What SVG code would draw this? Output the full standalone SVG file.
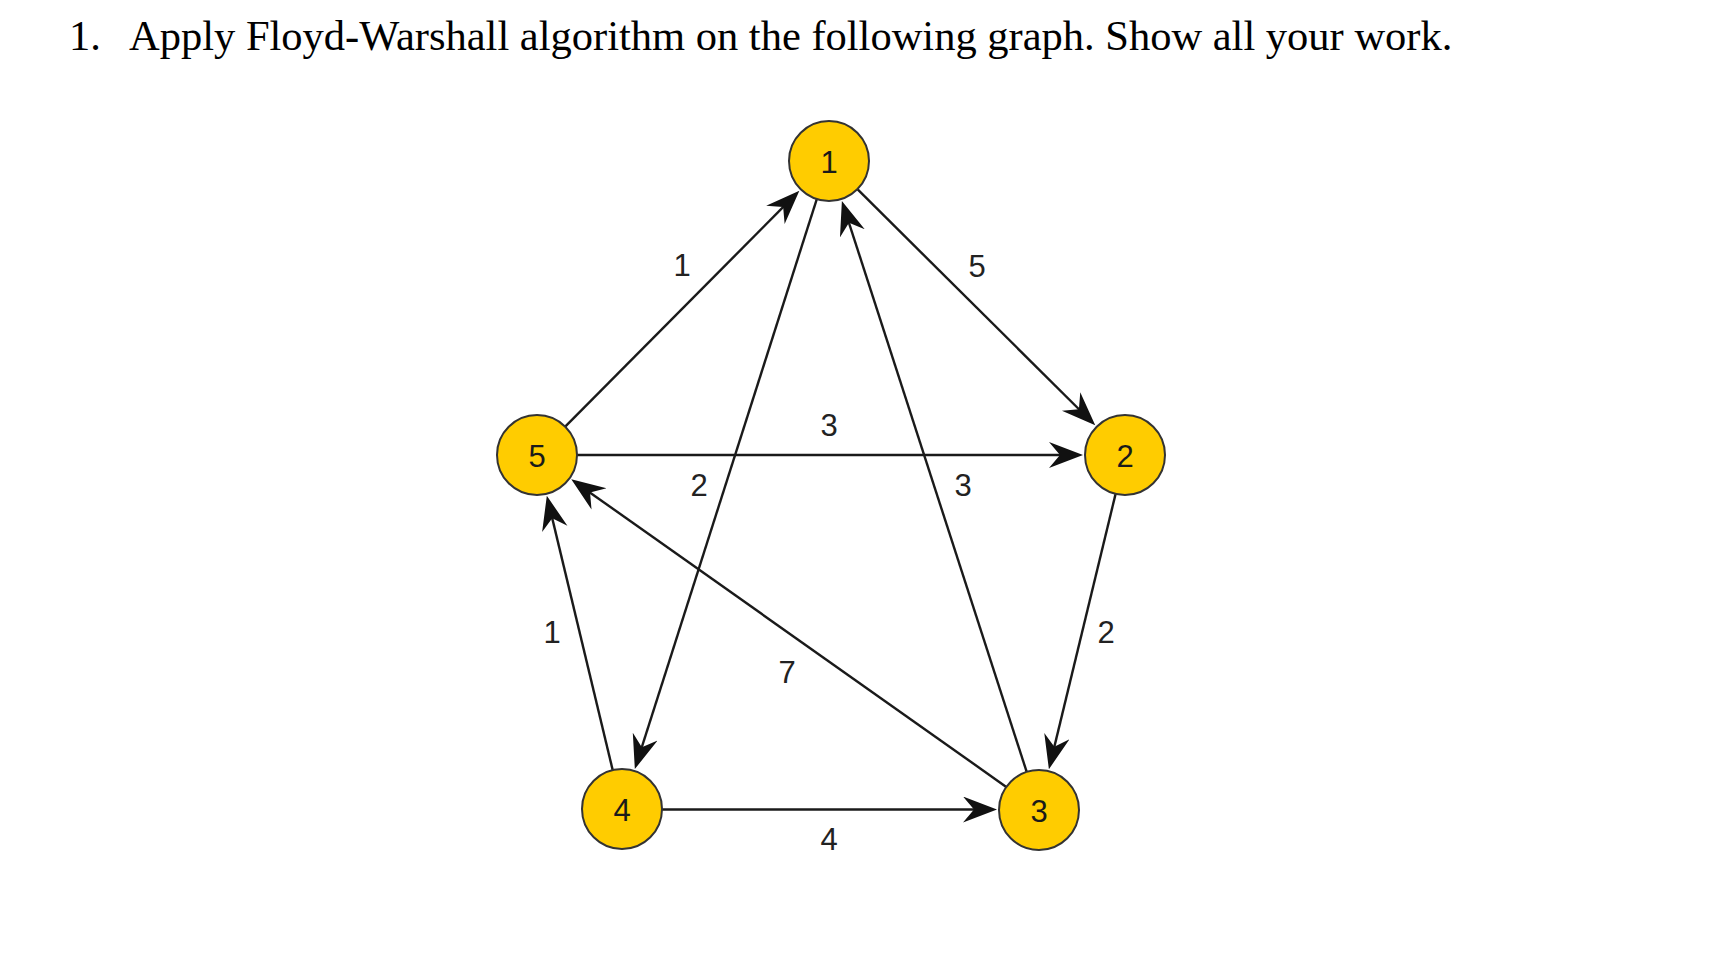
<svg xmlns="http://www.w3.org/2000/svg" width="1714" height="974" viewBox="0 0 1714 974">
<style>
.title{font-family:"Liberation Serif","Times New Roman",serif;font-size:42.5px;fill:#000}
.node circle{fill:#FFCC00;stroke:#333;stroke-width:2}
.node text{font-family:"Liberation Sans",Arial,sans-serif;font-size:31px;fill:#1a1a1a;text-anchor:middle}
.edge{stroke:#1a1a1a;stroke-width:2.4;fill:none;marker-end:url(#arr)}
.lbl{font-family:"Liberation Sans",Arial,sans-serif;font-size:31px;fill:#222;text-anchor:middle}
</style>
<defs>
<marker id="arr" markerUnits="userSpaceOnUse" markerWidth="36" markerHeight="28" refX="20" refY="13" orient="auto">
<path d="M34,13 L0,0 L11,13 L0,26 Z" fill="#111"/>
</marker>
</defs>
<rect width="1714" height="974" fill="#fff"/>
<g id="title">
<text class="title" x="69" y="50">1.</text>
<text class="title" x="129" y="50">Apply Floyd-Warshall algorithm on the following graph. Show all your work.</text>
</g>
<g id="connectors">
<line id="e5-1" class="edge" x1="565.2" y1="426.6" x2="789.5" y2="200.7"/>
<line id="e1-2" class="edge" x1="857.4" y1="189.2" x2="1085.3" y2="415.5"/>
<line id="e5-2" class="edge" x1="577" y1="455" x2="1069" y2="455"/>
<line id="e1-4" class="edge" x1="816.8" y1="199.1" x2="639.1" y2="755.7"/>
<line id="e3-1" class="edge" x1="1026.7" y1="771.9" x2="846.2" y2="214.3"/>
<line id="e2-3" class="edge" x1="1115.6" y1="493.9" x2="1052.2" y2="755.6"/>
<line id="e4-5" class="edge" x1="612.7" y1="770.1" x2="550.1" y2="509.4"/>
<line id="e3-5" class="edge" x1="1006.3" y1="786.9" x2="582.7" y2="487.4"/>
<line id="e4-3" class="edge" x1="662" y1="809.5" x2="983" y2="809.5"/>
<text class="lbl" x="682" y="276">1</text>
<text class="lbl" x="977" y="277">5</text>
<text class="lbl" x="829" y="436">3</text>
<text class="lbl" x="699" y="496">2</text>
<text class="lbl" x="963" y="496">3</text>
<text class="lbl" x="1106" y="643">2</text>
<text class="lbl" x="552" y="643">1</text>
<text class="lbl" x="787" y="683">7</text>
<text class="lbl" x="829" y="850">4</text>
</g>
<g id="node1" class="node"><circle cx="829" cy="161" r="40"/><text x="829" y="173">1</text></g>
<g id="node2" class="node"><circle cx="1125" cy="455" r="40"/><text x="1125" y="467">2</text></g>
<g id="node3" class="node"><circle cx="1039" cy="810" r="40"/><text x="1039" y="822">3</text></g>
<g id="node4" class="node"><circle cx="622" cy="809" r="40"/><text x="622" y="821">4</text></g>
<g id="node5" class="node"><circle cx="537" cy="455" r="40"/><text x="537" y="467">5</text></g>
</svg>
